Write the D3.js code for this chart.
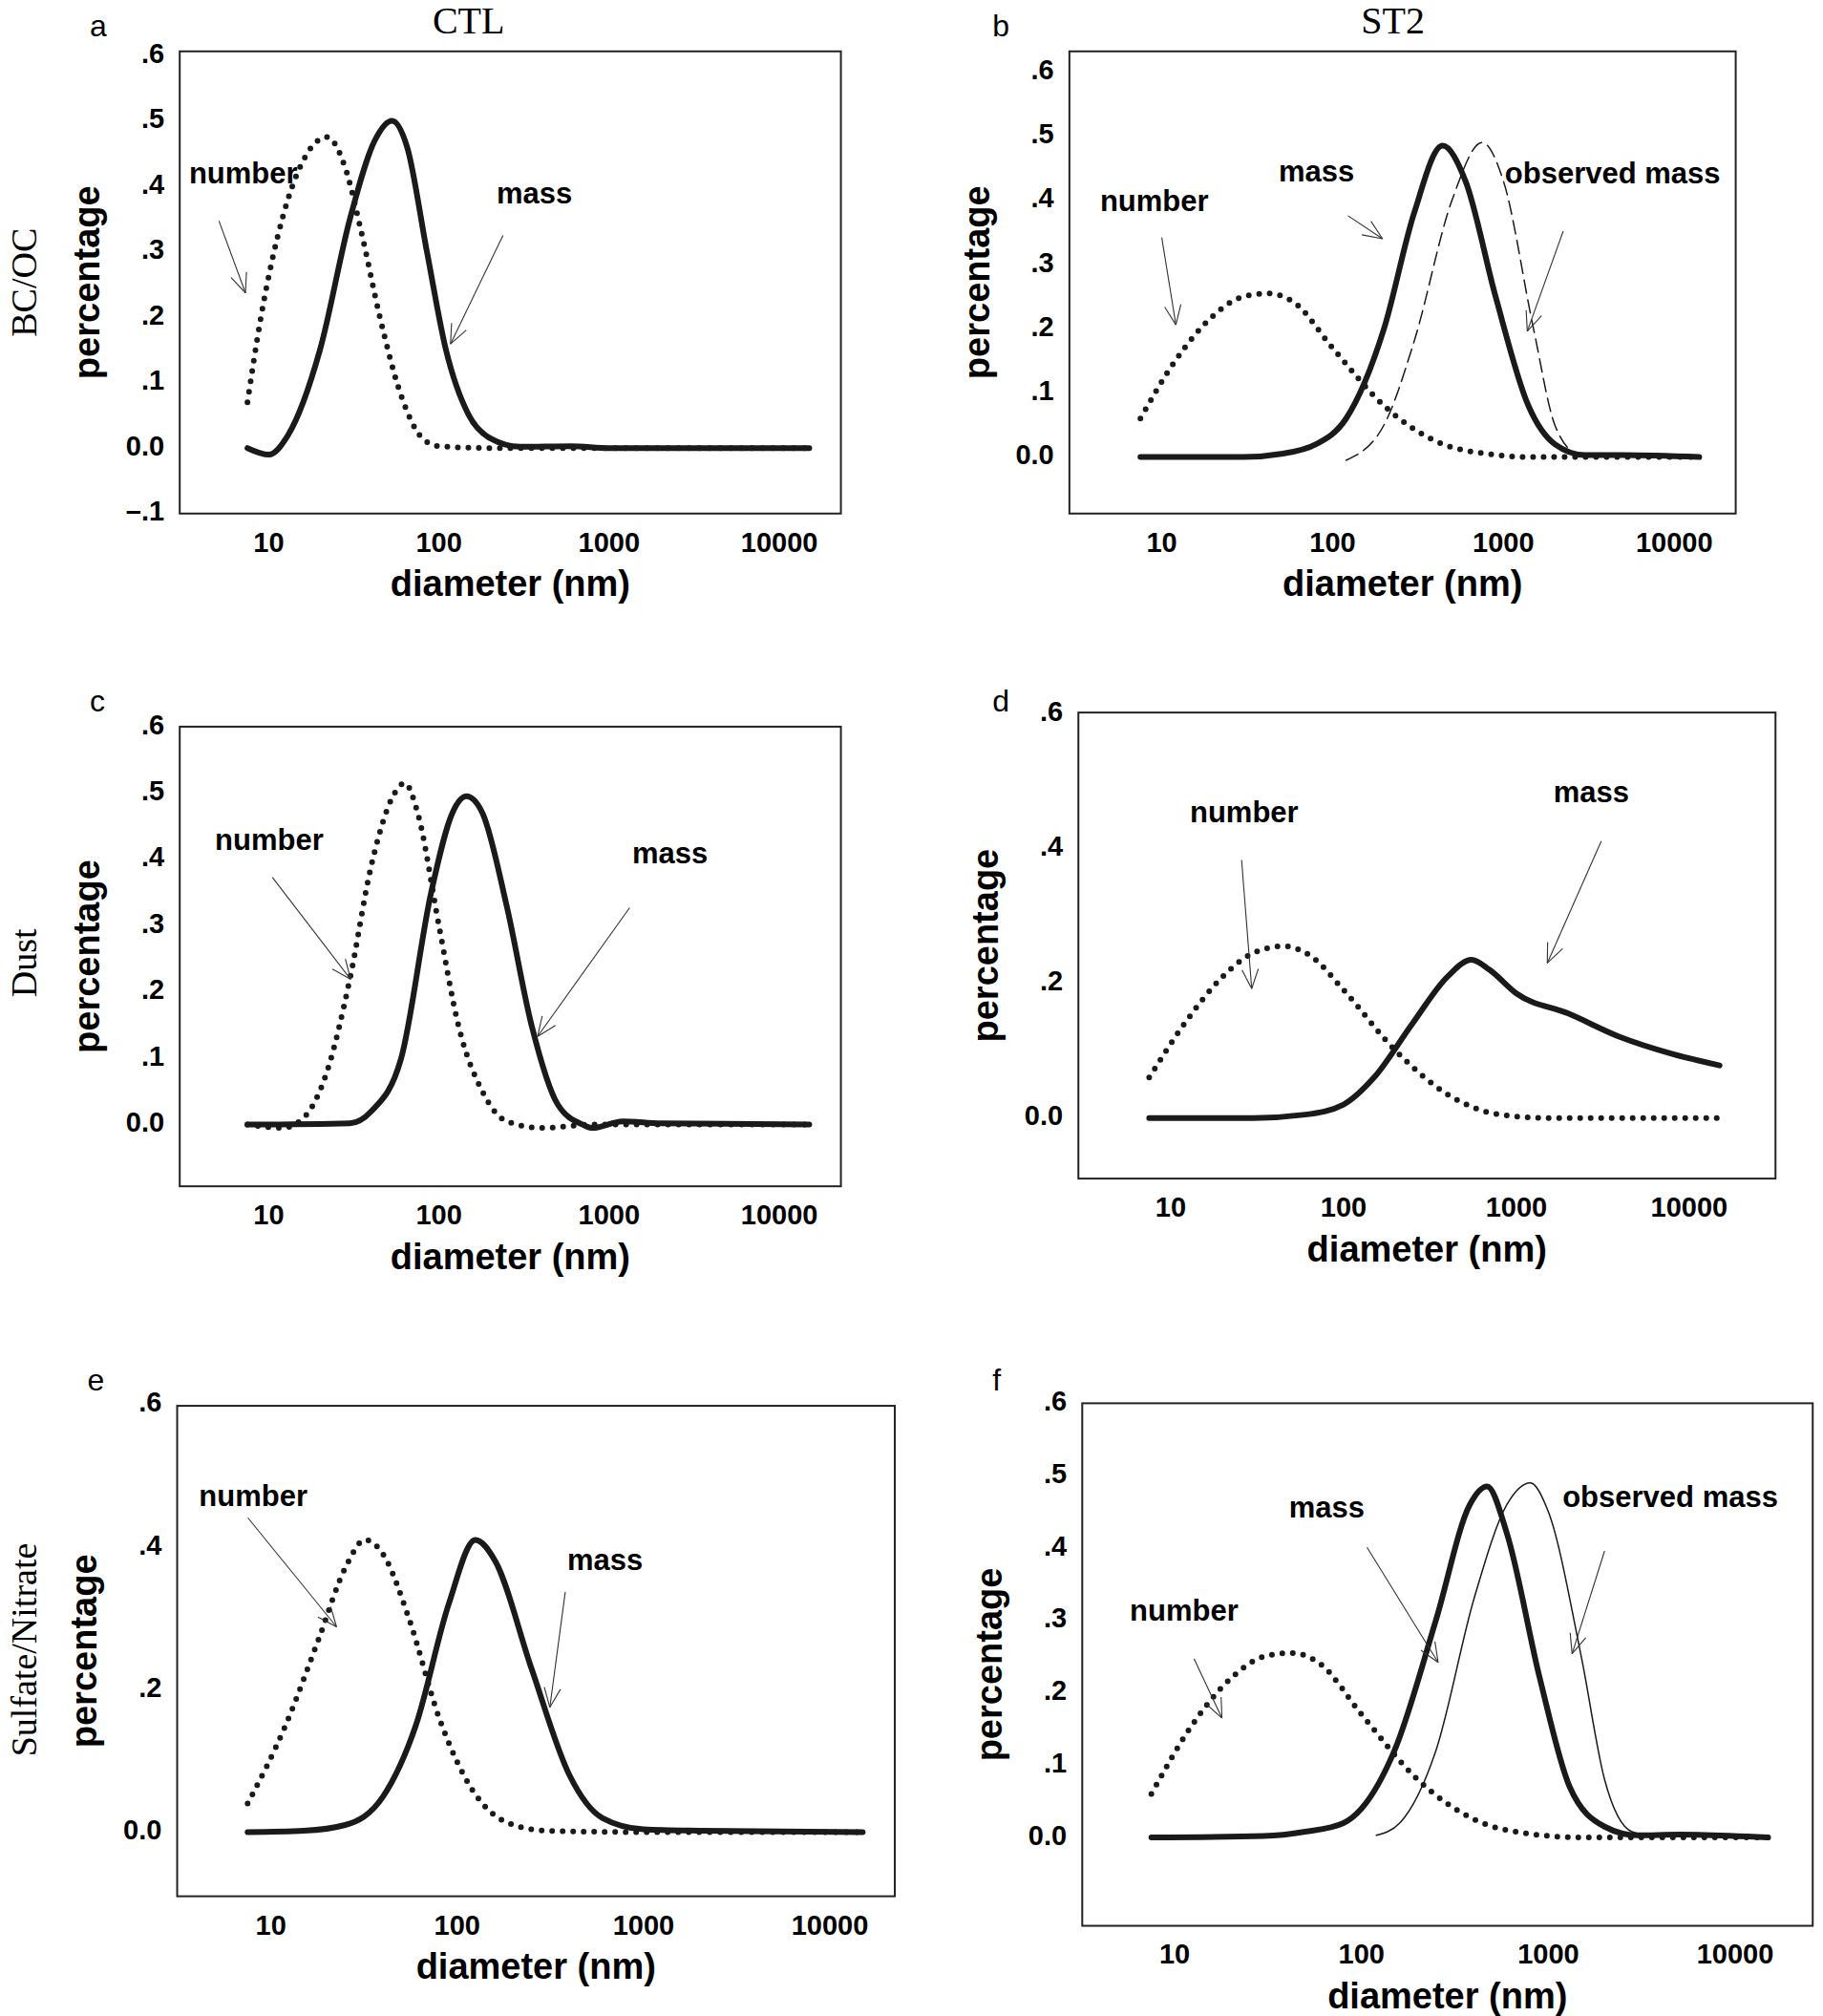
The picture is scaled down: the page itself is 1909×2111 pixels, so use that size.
<!DOCTYPE html><html><head><meta charset="utf-8">
<script src="https://cdn.jsdelivr.net/npm/d3@7"></script>
<style>body{margin:0;background:#fff}</style></head><body>
<svg id="c" width="1909" height="2111"></svg>
<script>
// ---- data: [diameter nm, percentage]
const aNumber=[[7.5,0.07],[9,0.2],[12,0.35],[16,0.44],[22,0.475],[28,0.43],[35,0.33],[45,0.2],[60,0.08],[80,0.015],[100,0.003],[200,0],[1000,0],[15000,0]];
const aMass=[[7.5,0],[10,-0.01],[13,0.02],[20,0.15],[30,0.35],[42,0.47],[53,0.5],[65,0.46],[85,0.3],[110,0.15],[150,0.05],[200,0.015],[300,0.002],[600,0.003],[1000,0],[15000,0]];
const bNumber=[[7.5,0.06],[12,0.15],[20,0.22],[30,0.25],[42,0.255],[60,0.24],[100,0.17],[200,0.08],[400,0.025],[800,0.005],[1500,0],[14000,0]];
const bMass=[[7.5,0],[30,0],[50,0.005],[80,0.02],[120,0.06],[200,0.2],[300,0.38],[440,0.485],[600,0.43],[900,0.25],[1400,0.08],[2000,0.02],[3000,0.003],[5000,0.003],[14000,0]];
const bObserved=[[120,-0.005],[200,0.05],[300,0.18],[500,0.4],[750,0.49],[1000,0.43],[1500,0.2],[2000,0.05],[2700,0.005],[3500,0]];
const cNumber=[[7.5,0],[12,-0.005],[16,0.01],[22,0.08],[30,0.22],[40,0.39],[55,0.5],[63,0.515],[75,0.47],[100,0.3],[130,0.15],[180,0.05],[250,0.005],[400,-0.005],[800,0],[15000,0]];
const cMass=[[7.5,0],[30,0.002],[40,0.02],[60,0.1],[90,0.35],[120,0.47],[145,0.495],[180,0.47],[250,0.33],[350,0.15],[500,0.03],[700,0],[800,-0.005],[1200,0.005],[2000,0.002],[15000,0]];
const dNumber=[[7.5,0.06],[12,0.14],[20,0.21],[30,0.245],[45,0.255],[65,0.24],[100,0.19],[200,0.1],[400,0.035],[800,0.005],[1500,0],[15000,0]];
const dMass=[[7.5,0],[30,0],[60,0.005],[100,0.02],[150,0.06],[250,0.14],[400,0.21],[550,0.235],[700,0.22],[1000,0.185],[2000,0.155],[4000,0.12],[8000,0.095],[15000,0.078]];
const eNumber=[[7.5,0.04],[12,0.15],[18,0.27],[25,0.37],[32,0.41],[40,0.39],[55,0.3],[80,0.16],[120,0.06],[180,0.015],[300,0.002],[1000,0],[15000,0]];
const eMass=[[7.5,0],[15,0.002],[25,0.01],[40,0.05],[60,0.15],[90,0.32],[125,0.41],[160,0.38],[250,0.23],[400,0.08],[600,0.02],[1000,0.004],[2000,0.002],[15000,0]];
const fNumber=[[7.5,0.06],[12,0.15],[20,0.22],[30,0.25],[42,0.255],[60,0.24],[100,0.17],[200,0.08],[400,0.025],[800,0.005],[1500,0],[15000,0]];
const fMass=[[7.5,0],[30,0.002],[50,0.008],[80,0.02],[100,0.04],[150,0.12],[250,0.3],[380,0.46],[470,0.485],[600,0.42],[900,0.22],[1300,0.07],[2000,0.015],[3000,0.003],[5000,0.004],[15000,0]];
const fObserved=[[120,0.003],[160,0.02],[250,0.12],[400,0.33],[600,0.46],[800,0.49],[1000,0.45],[1500,0.25],[2000,0.08],[2800,0.008],[3500,0.003]];
const xTicks=[10,100,1000,10000];
const yTicks6=[0,0.1,0.2,0.3,0.4,0.5,0.6], yTicksA=[-0.1,0,0.1,0.2,0.3,0.4,0.5,0.6], yTicks3=[0,0.2,0.4,0.6];
// annotations: [text, textX, textY, arrowFromX, fromY, toX, toY] in data coords
const annA=[["number",3.4,0.416,5.1,0.347,7.3,0.237],["mass",218,0.386,238,0.325,117,0.159]];
const annB=[["number",4.35,0.396,10,0.342,12.1,0.206],["mass",48.3,0.442,123,0.376,196,0.34],["observed mass",1020,0.438,2240,0.352,1380,0.196]];
const annC=[["number",4.83,0.426,10.5,0.373,30.3,0.219],["mass",1365,0.406,1320,0.327,380,0.133]];
const annD=[["number",12.9,0.451,25.7,0.383,29.4,0.192],["mass",1640,0.48,3100,0.411,1510,0.23]];
const annE=[["number",4.11,0.468,7.52,0.441,22.5,0.288],["mass",389,0.378,380,0.337,314,0.175]];
const annF=[["number",5.75,0.311,12.7,0.247,17.9,0.165],["mass",40.9,0.453,107,0.401,257,0.242],["observed mass",1190,0.467,2000,0.396,1340,0.254]];

const S=1909/1420;
const svg=d3.select("#c");
const sans="'Liberation Sans',Arial,sans-serif", serif="'Liberation Serif','Times New Roman',serif";
function txt(x,y,t,o){const e=svg.append("text").attr("x",x).attr("y",y).text(t).attr("font-family",o.f||sans).attr("font-size",o.s).attr("font-weight",o.w||"normal").attr("text-anchor",o.a||"start").attr("dominant-baseline",o.b||"middle");if(o.r)e.attr("transform",`rotate(-90,${x},${y})`);return e;}
function panel(p){
  const L=p.box[0]*S,R=p.box[1]*S,T=p.box[2]*S,B=p.box[3]*S;
  const x=d3.scaleLog().domain(p.xd).range([L,R]);
  const y=d3.scaleLinear().domain(p.yd).range([B,T]);
  svg.append("rect").attr("x",L).attr("y",T).attr("width",R-L).attr("height",B-T).attr("fill","none").attr("stroke","#222").attr("stroke-width",2);
  const line=d3.line().x(d=>x(d[0])).y(d=>y(d[1])).curve(d3.curveMonotoneX);
  p.series.forEach(s=>{
    const e=svg.append("path").attr("d",line(s.d)).attr("fill","none").attr("stroke","#1a1a1a").attr("stroke-width",s.w).attr("stroke-linecap","round");
    if(s.dash)e.attr("stroke-dasharray",s.dash);
  });
  xTicks.forEach(t=>txt(x(t),B+24*S,t,{s:29,w:"bold",a:"middle"}));
  p.yt.forEach(t=>txt(L-12*S,y(t),t===0?"0.0":(t<0?"\u2013.":".")+Math.round(Math.abs(t)*10),{s:29,w:"bold",a:"end"}));
  txt((L+R)/2,B+57*S,"diameter (nm)",{s:38,w:"bold",a:"middle"});
  txt(L-70*S,(T+B)/2,"percentage",{s:38,w:"bold",a:"middle",r:1});
  txt(p.letter[1]*S,p.letter[2]*S,p.letter[0],{s:32});
  p.ann.forEach(a=>{
    txt(x(a[1]),y(a[2]),a[0],{s:31,w:"bold"});
    const x1=x(a[3]),y1=y(a[4]),x2=x(a[5]),y2=y(a[6]);
    svg.append("line").attr("x1",x1).attr("y1",y1).attr("x2",x2).attr("y2",y2).attr("stroke","#333").attr("stroke-width",1.1);
    const ang=Math.atan2(y1-y2,x1-x2),len=22;
    [-0.4,0.4].forEach(da=>svg.append("line").attr("x1",x2).attr("y1",y2).attr("x2",x2+len*Math.cos(ang+da)).attr("y2",y2+len*Math.sin(ang+da)).attr("stroke","#333").attr("stroke-width",1.1));
  });
}
const dot={w:6,dash:"0 11"};
panel({box:[140,655,40,400],xd:[3.0,23000],yd:[-0.1,0.606],yt:yTicksA,letter:["a",70,22],ann:annA,
  series:[{d:aNumber,...dot},{d:aMass,w:6}]});
panel({box:[833,1352,40,400],xd:[2.88,22900],yd:[-0.088,0.632],yt:yTicks6,letter:["b",773,22],ann:annB,
  series:[{d:bNumber,...dot},{d:bMass,w:6},{d:bObserved,w:1.5,dash:"14 7"}]});
panel({box:[140,655,566,924],xd:[3.0,23000],yd:[-0.093,0.6],yt:yTicks6,letter:["c",70,548],ann:annC,
  series:[{d:cNumber,...dot},{d:cMass,w:6}]});
panel({box:[840,1383,555,918],xd:[2.92,31600],yd:[-0.09,0.602],yt:yTicks3,letter:["d",773,548],ann:annD,
  series:[{d:dNumber,...dot},{d:dMass,w:6}]});
panel({box:[138,697,1095,1477],xd:[3.14,22300],yd:[-0.09,0.598],yt:yTicks3,letter:["e",68,1077],ann:annE,
  series:[{d:eNumber,...dot},{d:eMass,w:6}]});
panel({box:[843,1412,1093,1500],xd:[3.2,26000],yd:[-0.122,0.6],yt:yTicks6,letter:["f",773,1077],ann:annF,
  series:[{d:fNumber,...dot},{d:fMass,w:6},{d:fObserved,w:1.5}]});
txt(365*S,19*S,"CTL",{f:serif,s:40,a:"middle"});
txt(1085*S,19*S,"ST2",{f:serif,s:40,a:"middle"});
[["BC/OC",220],["Dust",750],["Sulfate/Nitrate",1285]].forEach(r=>txt(22*S,r[1]*S,r[0],{f:serif,s:38,a:"middle",r:1}));
</script></body></html>
